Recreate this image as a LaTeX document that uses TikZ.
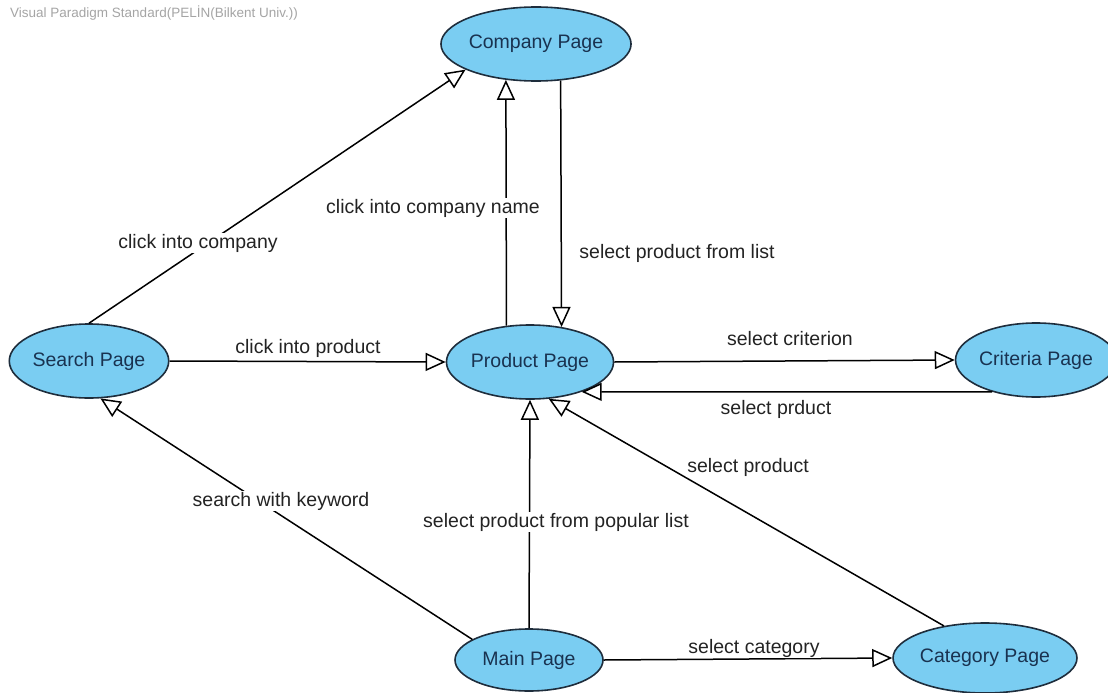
\documentclass[tikz,border=0pt]{standalone}
\usepackage{fontspec}
\setmainfont{Liberation Sans}
\usetikzlibrary{shapes.geometric,arrows.meta}

\definecolor{pagefill}{RGB}{122,205,242}
\definecolor{pageedge}{RGB}{30,45,60}
\definecolor{pagetext}{RGB}{25,50,80}
\definecolor{labeltext}{RGB}{35,35,35}
\definecolor{marktext}{RGB}{165,165,165}

\tikzset{
  page/.style={ellipse, draw=pageedge, fill=pagefill, line width=1.6pt,
    inner sep=0pt, text=pagetext, font=\fontsize{19.5}{22}\selectfont},
  flow/.style={draw=black, line width=1.5pt,
    -{Triangle[open, length=20pt, width=18pt, line width=1.5pt]}},
  flowlabel/.style={fill=white, inner sep=1pt, text=labeltext,
    font=\fontsize{19.5}{22}\selectfont}
}

\begin{document}
\begin{tikzpicture}[x=1pt, y=-1pt]
  \fill[white] (0,0) rectangle (1108,693);
  \useasboundingbox (0,0) rectangle (1108,693);

  \node[anchor=west, text=marktext, font=\fontsize{13.5}{15}\selectfont, inner sep=0pt]
    (mark) at (10,13) {Visual Paradigm Standard(PELİN(Bilkent Univ.))};

  % pages
  \node[page, minimum width=156pt, minimum height=74pt] (comp)   at (536,44)  {Company Page};
  \node[page, minimum width=148pt, minimum height=74pt] (prod)   at (530,362) {Product Page};
  \node[page, minimum width=148pt, minimum height=74pt] (search) at (89,361)  {Search Page};
  \node[page, minimum width=142pt, minimum height=74pt] (crit)   at (1036,360) {Criteria Page};
  \node[page, minimum width=148pt, minimum height=62pt] (main)   at (529,660) {Main Page};
  \node[page, minimum width=156pt, minimum height=70pt] (cat)    at (985,658) {Category Page};

  % transitions
  \draw[flow] (search.north) -- (comp.200);
  \draw[flow] (prod.123) -- (comp.230);
  \draw[flow] (comp.304) -- (prod.48);
  \draw[flow] (search.east) -- (prod.west);
  \draw[flow] (prod.east) -- (crit.west);
  \draw[flow] (crit.216) -- (prod.330);
  \draw[flow] (main.160) -- (search.287);
  \draw[flow] (main.north) -- (prod.south);
  \draw[flow] (cat.142) -- (prod.297);
  \draw[flow] (main.east) -- (cat.west);

  % transition labels
  \node[flowlabel] (l1)  at (198,243) {click into company};
  \node[flowlabel] (l2)  at (433,208) {click into company name};
  \node[flowlabel] (l3)  at (677,253) {select product from list};
  \node[flowlabel] (l4)  at (308,348) {click into product};
  \node[flowlabel] (l5)  at (790,339) {select criterion};
  \node[flowlabel] (l6)  at (776,409) {select prduct};
  \node[flowlabel] (l7)  at (281,501) {search with keyword};
  \node[flowlabel] (l8)  at (556,522) {select product from popular list};
  \node[flowlabel] (l9)  at (748,467) {select product};
  \node[flowlabel] (l10) at (754,648) {select category};
\end{tikzpicture}
\end{document}
